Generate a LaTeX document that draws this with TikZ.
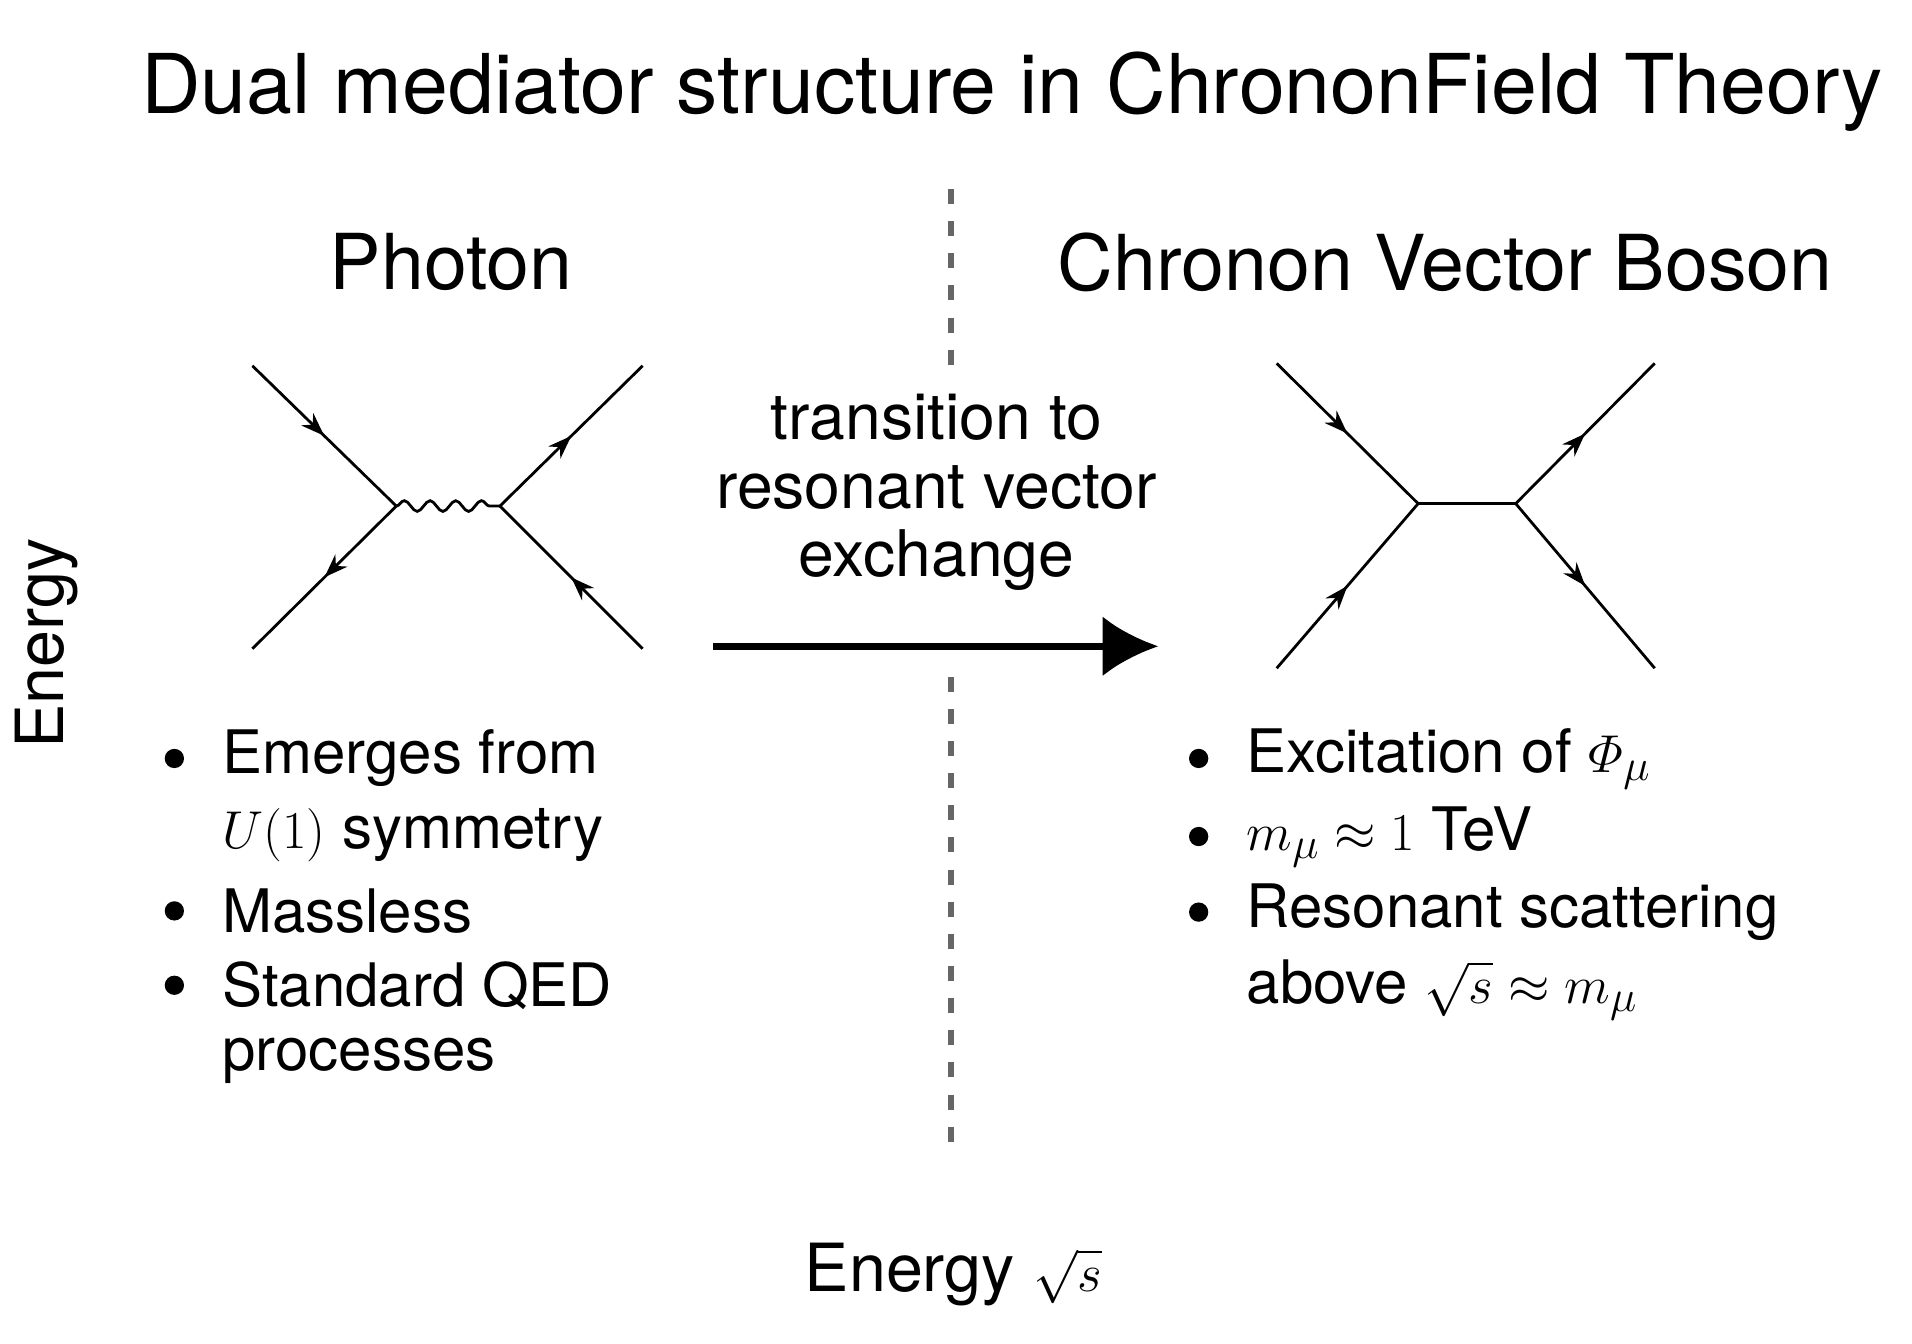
\documentclass[tikz,border=0pt]{standalone}
\usepackage{amsmath}
\usepackage{fontspec}
\setmainfont{TeX Gyre Heros}
\usetikzlibrary{decorations.pathmorphing,decorations.markings,arrows.meta}
\begin{document}
\begin{tikzpicture}[x=0.02cm,y=-0.02cm,
  big/.style={font=\fontsize{36}{40}\selectfont},
  body/.style={font=\fontsize{28}{32}\selectfont,anchor=west,inner sep=0},
  dot/.style={circle,fill=black,inner sep=0,minimum size=9pt},
  leg/.style={line width=1.3pt},
  vline/.style={line width=2.5pt,dash pattern=on 7pt off 8pt,gray!80!black},
  fwd/.style={leg,postaction={decorate},decoration={markings,mark=at position 0.5 with {\arrow{Stealth[length=11pt,width=8pt]}}}},
]
\useasboundingbox (0,0) rectangle (1568,1102);
\node[font=\fontsize{38.5}{42}\selectfont] (title) at (830,75) {Dual mediator structure in ChrononField Theory};
\coordinate (t1) at (780,155); \coordinate (t2) at (780,300);
\coordinate (t3) at (780,555); \coordinate (t4) at (780,950);
\draw[vline] (t1) -- (t2);
\draw[vline] (t3) -- (t4);
\node[big] (ph) at (370,215) {Photon};
\node[big] (cvb) at (1185,215) {Chronon Vector Boson};
% photon diagram
\coordinate (a1) at (207,300); \coordinate (a2) at (207,532);
\coordinate (a3) at (527,300); \coordinate (a4) at (527,532);
\coordinate (v1) at (325,415); \coordinate (v2) at (410,415);
\draw[fwd] (a1) -- (v1);
\draw[fwd] (v1) -- (a2);
\draw[fwd] (v2) -- (a3);
\draw[fwd] (a4) -- (v2);
\draw[leg,decorate,decoration={snake,amplitude=2.5pt,segment length=12pt}] (v1) -- (v2);
% chronon diagram
\coordinate (b1) at (1047,298); \coordinate (b2) at (1047,548);
\coordinate (b3) at (1357,298); \coordinate (b4) at (1357,548);
\coordinate (w1) at (1163,413); \coordinate (w2) at (1243,413);
\draw[fwd] (b1) -- (w1);
\draw[fwd] (b2) -- (w1);
\draw[fwd] (w2) -- (b3);
\draw[fwd] (w2) -- (b4);
\draw[leg] (w1) -- (w2);
% transition
\node[font=\fontsize{30}{32}\selectfont,align=center,inner sep=2pt] (tr) at (768,404) {transition to\\resonant vector\\exchange};
\coordinate (s) at (585,530); \coordinate (e) at (950,530);
\draw[line width=3.5pt,-{Latex[length=26pt,width=28pt]}] (s) -- (e);
\node[font=\fontsize{31}{37}\selectfont,rotate=90] (ey) at (38,528) {Energy};
\node[font=\fontsize{31}{37}\selectfont] (ex) at (782,1045) {Energy $\sqrt{s}$};
% left bullets
\node[dot] (d1) at (143,622) {}; \node[body] (l1) at (182,622) {Emerges from};
\node[body] (l2) at (182,685) {$U(1)$ symmetry};
\node[dot] (d3) at (143,747) {}; \node[body] (l3) at (182,747) {Massless};
\node[dot] (d4) at (143,808) {}; \node[body] (l4) at (182,808) {Standard QED};
\node[body] (l5) at (182,870) {processes};
% right bullets
\node[dot] (r1d) at (983,622) {}; \node[body] (r1) at (1022,622) {Excitation of $\varPhi_\mu$};
\node[dot] (r2d) at (983,686) {}; \node[body] (r2) at (1022,686) {$m_\mu \approx 1$ TeV};
\node[dot] (r3d) at (983,748) {}; \node[body] (r3) at (1022,748) {Resonant scattering};
\node[body] (r4) at (1022,812) {above $\sqrt{s}\approx m_\mu$};
\end{tikzpicture}
\end{document}
